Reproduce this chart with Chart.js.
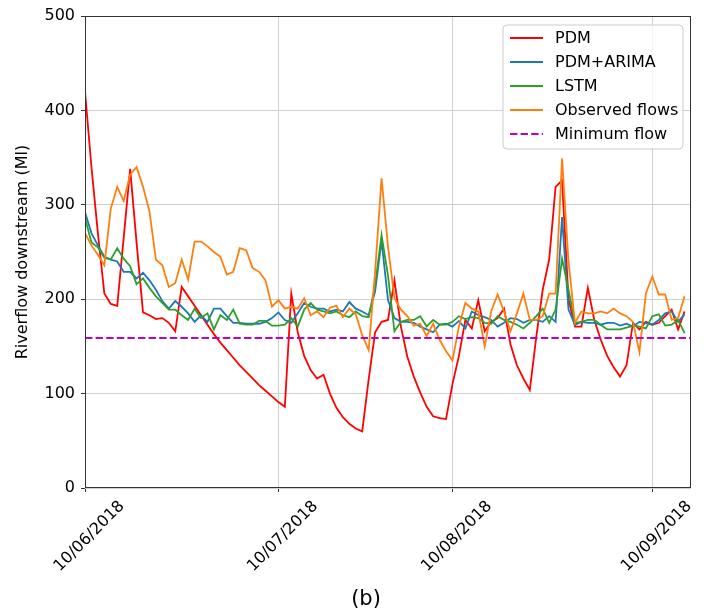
<!DOCTYPE html>
<html><head><meta charset="utf-8">
<script src="https://cdn.jsdelivr.net/npm/chart.js@4.4.0/dist/chart.umd.min.js"></script>
<style>html,body{margin:0;padding:0;background:#fff;}</style>
</head><body>
<canvas id="c" width="706" height="613" style="width:706px;height:613px;display:block"></canvas>
<script>
// x = day index of the series; ticks at these day indices
const tickDays = [0, 30, 57, 88];
const tickLabels = ['10/06/2018', '10/07/2018', '10/08/2018', '10/09/2018'];
const xMax = 94;

const pdm = [420,340,270,206,195,193,265,338,260,186,183,179,180,175,166,213,203,193,183,173,
  163,154,146,138,130,123,116,109,103,97,91,86,206,165,140,125,116,120,100,85,
  75,68,63,60,115,165,176,178,220,171,139,118,101,86,76,74,73,110,140,178,
  169,199,166,176,180,190,152,130,116,104,160,210,242,319,326,200,171,171,212,178,
  157,140,128,118,130,175,168,176,173,175,182,189,168,187];
const pdmArima = [292,270,257,245,242,240,229,229,222,228,220,210,198,190,198,192,185,176,183,176,
  190,190,182,175,175,174,174,174,176,180,186,178,175,185,196,192,190,190,187,189,
  187,197,190,187,183,208,262,199,180,176,176,175,171,168,165,173,174,171,177,169,
  187,183,181,178,171,175,180,179,175,178,178,176,182,176,287,189,173,176,175,175,
  173,175,175,172,174,171,176,175,173,178,185,187,176,184];
const lstm = [286,260,255,244,242,254,243,235,216,222,212,203,196,189,189,183,178,190,180,185,
  168,183,178,189,174,173,173,177,177,172,172,173,180,171,189,196,189,187,185,187,
  183,181,187,182,181,215,268,225,166,176,178,178,182,171,178,173,173,176,182,179,
  181,180,175,174,182,178,176,173,169,175,182,190,175,189,243,210,175,176,178,178,
  173,168,168,168,170,172,171,169,182,184,172,173,178,164];
const observed = [270,257,247,236,296,319,304,332,340,319,293,242,236,213,217,242,221,261,261,256,
  250,245,226,229,254,252,233,229,220,192,199,190,192,190,201,183,187,181,191,193,
  181,190,184,162,146,229,328,256,201,189,182,172,174,161,174,157,145,135,171,196,
  190,187,150,187,205,187,166,185,206,178,178,182,206,206,349,240,175,187,185,185,
  187,185,190,185,182,176,144,206,224,205,205,178,180,203];
const minimumFlow = 159;

const FONT = 'DejaVu Sans';
const series = [
  {label: 'PDM', data: pdm, color: '#ff0000'},
  {label: 'PDM+ARIMA', data: pdmArima, color: '#1f77b4'},
  {label: 'LSTM', data: lstm, color: '#2ca02c'},
  {label: 'Observed flows', data: observed, color: '#ff7f0e'}
];
const datasets = series.map((s, k) => ({
  label: s.label,
  data: s.data.map((v, i) => ({x: i, y: v})),
  borderColor: s.color,
  borderWidth: 1.8,
  pointRadius: 0,
  tension: 0,
  fill: false,
  order: 4 - k
}));
datasets.push({
  label: 'Minimum flow',
  data: [{x: 0, y: minimumFlow}, {x: xMax, y: minimumFlow}],
  borderColor: '#bf00bf',
  borderWidth: 2,
  borderDash: [7.4, 3.2],
  pointRadius: 0,
  fill: false,
  order: 0
});

const extras = {
  id: 'extras',
  afterDraw(chart) {
    const ctx = chart.ctx, a = chart.chartArea;
    ctx.save();
    // frame
    ctx.strokeStyle = '#333';
    ctx.lineWidth = 1;
    ctx.strokeRect(Math.round(a.left) + 0.5, Math.round(a.top) + 0.5,
      Math.round(a.right - a.left) - 1, Math.round(a.bottom - a.top) - 1);
    // legend
    const bx = 503, by = 25, bw = 180, bh = 124, r = 4;
    ctx.beginPath();
    ctx.moveTo(bx + r, by);
    ctx.arcTo(bx + bw, by, bx + bw, by + bh, r);
    ctx.arcTo(bx + bw, by + bh, bx, by + bh, r);
    ctx.arcTo(bx, by + bh, bx, by, r);
    ctx.arcTo(bx, by, bx + bw, by, r);
    ctx.closePath();
    ctx.fillStyle = 'rgba(255,255,255,0.8)';
    ctx.fill();
    ctx.strokeStyle = '#cccccc';
    ctx.stroke();
    ctx.font = '16px "' + FONT + '"';
    ctx.textBaseline = 'middle';
    ctx.textAlign = 'left';
    chart.data.datasets.forEach((d, i) => {
      const y = 38 + i * 24;
      ctx.beginPath();
      ctx.strokeStyle = d.borderColor;
      ctx.lineWidth = d.borderWidth;
      ctx.setLineDash(d.borderDash || []);
      ctx.moveTo(510, y);
      ctx.lineTo(543, y);
      ctx.stroke();
      ctx.setLineDash([]);
      ctx.fillStyle = '#000';
      ctx.fillText(d.label, 555, y + 1);
    });
    // caption
    ctx.font = '21px "' + FONT + '"';
    ctx.textAlign = 'center';
    ctx.fillText('(b)', 366, 600);
    ctx.restore();
  }
};

new Chart(document.getElementById('c'), {
  type: 'line',
  data: {datasets},
  options: {
    responsive: false,
    animation: false,
    layout: {padding: {top: 16, right: 15, left: 0, bottom: 0}},
    plugins: {legend: {display: false}, tooltip: {enabled: false}},
    scales: {
      x: {
        type: 'linear', min: 0, max: xMax,
        afterBuildTicks: ax => { ax.ticks = tickDays.map(v => ({value: v})); },
        afterFit: ax => { ax.height = 125; },
        ticks: {
          autoSkip: false, minRotation: 45, maxRotation: 45,
          labelOffset: 37, padding: 5,
          font: {family: FONT, size: 16}, color: '#000',
          callback: v => tickLabels[tickDays.indexOf(v)]
        },
        grid: {color: '#d0d0d0', tickColor: '#333', tickLength: 4, lineWidth: 1},
        border: {display: false}
      },
      y: {
        min: 0, max: 500,
        afterFit: ax => { ax.width = 85; },
        ticks: {stepSize: 100, padding: 6, font: {family: FONT, size: 16}, color: '#000'},
        grid: {color: '#d0d0d0', tickColor: '#333', tickLength: 4, lineWidth: 1},
        border: {display: false},
        title: {display: true, text: 'Riverflow downstream (Ml)', font: {family: FONT, size: 16},
          color: '#000', padding: {top: 13, bottom: 0}}
      }
    }
  },
  plugins: [extras]
});
</script>
</body></html>
